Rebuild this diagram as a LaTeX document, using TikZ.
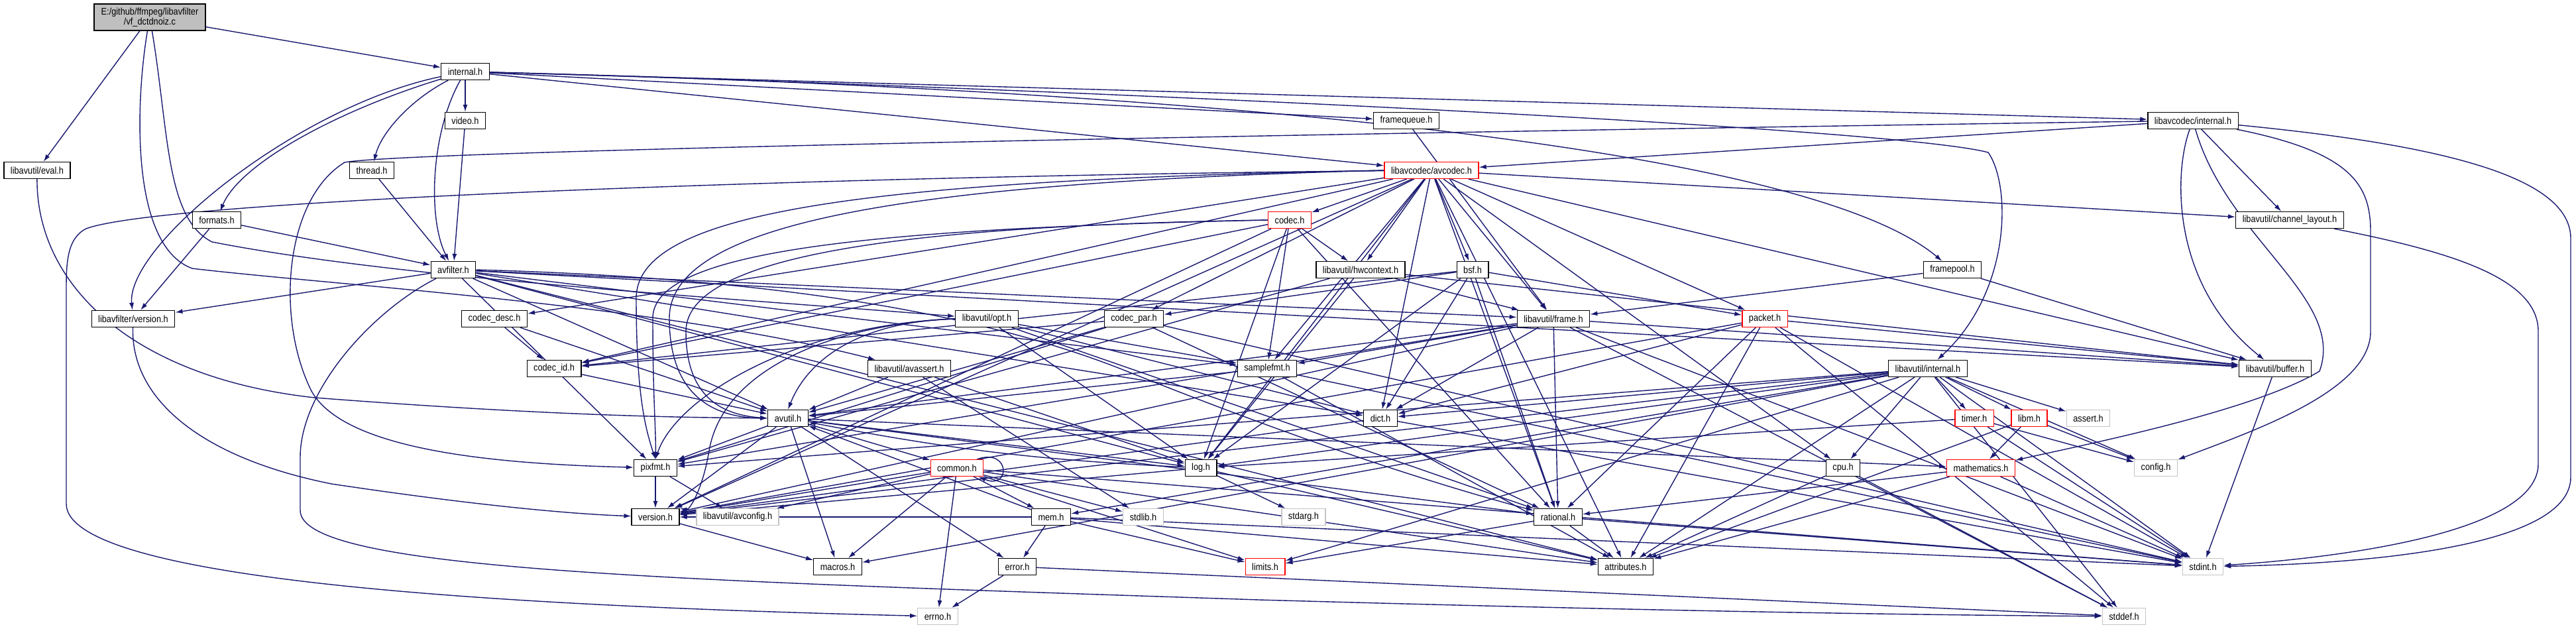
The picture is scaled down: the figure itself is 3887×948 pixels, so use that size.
\documentclass[tikz,border=0pt]{standalone}
\usepackage{fontspec}
\setmainfont[FakeStretch=0.88]{Liberation Sans}
\usetikzlibrary{arrows.meta}
\pgfdeclarelayer{edges}
\pgfsetlayers{edges,main}
\definecolor{edgeblue}{HTML}{191970}
\definecolor{rootgray}{HTML}{BFBFBF}
\definecolor{sysgray}{HTML}{C4C4C4}

\begin{document}
\begin{tikzpicture}[x=1pt,y=-1pt,
  hdr/.style={draw=black,line width=1.3pt,fill=white,minimum height=25pt,inner xsep=10pt,inner ysep=0pt,font=\fontsize{14.5}{15}\selectfont},
  redhdr/.style={hdr,draw=red},
  syshdr/.style={hdr,draw=sysgray},
  rootbox/.style={hdr,fill=rootgray,minimum width=168pt,minimum height=40pt,align=center,inner xsep=3pt},
  inc/.style={draw=edgeblue,line width=1.4pt,-{Latex[length=11pt,width=7pt]}}]
  \useasboundingbox (0,0) rectangle (3887,948);

  % libavfilter side
  \node[rootbox] (root) at (226,26) {E:/github/ffmpeg/libavfilter\\/vf\_dctdnoiz.c};
  \node[hdr] (lfint) at (702,108) {internal.h};
  \node[hdr] (video) at (702,182) {video.h};
  \node[hdr] (eval) at (56,257) {libavutil/eval.h};
  \node[hdr] (thread) at (561,257) {thread.h};
  \node[hdr] (formats) at (327,332) {formats.h};
  \node[hdr] (avfilter) at (684,407) {avfilter.h};
  \node[hdr] (lfver) at (201,481) {libavfilter/version.h};
  \node[hdr] (fqueue) at (2122,182) {framequeue.h};
  \node[hdr] (fpool) at (2946,407) {framepool.h};

  % libavcodec side
  \node[redhdr] (avcodec) at (2160,257) {libavcodec/avcodec.h};
  \node[hdr] (lcint) at (3309,182) {libavcodec/internal.h};
  \node[redhdr] (codec) at (1946,332) {codec.h};
  \node[hdr] (hwctx) at (2053,407) {libavutil/hwcontext.h};
  \node[hdr] (bsf) at (2222,407) {bsf.h};
  \node[hdr] (cdesc) at (746,481) {codec\_desc.h};
  \node[hdr] (cid) at (836,556) {codec\_id.h};
  \node[hdr] (cpar) at (1711,481) {codec\_par.h};
  \node[redhdr] (packet) at (2663,481) {packet.h};
  \node[hdr] (chlayout) at (3455,332) {libavutil/channel\_layout.h};

  % libavutil side
  \node[hdr] (opt) at (1489,481) {libavutil/opt.h};
  \node[hdr] (frame) at (2344,481) {libavutil/frame.h};
  \node[hdr] (avassert) at (1372,556) {libavutil/avassert.h};
  \node[hdr] (sfmt) at (1912,556) {samplefmt.h};
  \node[hdr] (luint) at (2909,556) {libavutil/internal.h};
  \node[hdr] (buffer) at (3433,556) {libavutil/buffer.h};
  \node[hdr] (avutil) at (1189,631) {avutil.h};
  \node[hdr] (dict) at (2083,631) {dict.h};
  \node[redhdr] (timer) at (2979,631) {timer.h};
  \node[redhdr] (libm) at (3062,631) {libm.h};
  \node[syshdr] (assert) at (3151,631) {assert.h};
  \node[hdr] (pixfmt) at (989,706) {pixfmt.h};
  \node[redhdr] (common) at (1444,706) {common.h};
  \node[hdr] (log) at (1812,706) {log.h};
  \node[hdr] (cpu) at (2781,706) {cpu.h};
  \node[redhdr] (math) at (2989,706) {mathematics.h};
  \node[syshdr] (config) at (3253,706) {config.h};
  \node[hdr] (ver) at (989,780) {version.h};
  \node[syshdr] (avconfig) at (1113,780) {libavutil/avconfig.h};
  \node[hdr] (mem) at (1586,780) {mem.h};
  \node[syshdr] (stdlib) at (1725,780) {stdlib.h};
  \node[syshdr] (stdarg) at (1967,780) {stdarg.h};
  \node[hdr] (rational) at (2351,780) {rational.h};
  \node[hdr] (macros) at (1264,855) {macros.h};
  \node[hdr] (error) at (1535,855) {error.h};
  \node[redhdr] (limits) at (1909,855) {limits.h};
  \node[hdr] (attr) at (2453,855) {attributes.h};
  \node[syshdr] (stdint) at (3324,855) {stdint.h};
  \node[syshdr] (errno) at (1415,930) {errno.h};
  \node[syshdr] (stddef) at (3205,930) {stddef.h};

  \begin{pgfonlayer}{edges}
    % straight includes
    \foreach \s/\t in {root/eval, root/lfint, lfint/video, lfint/fqueue, lfint/avcodec, lfint/lcint,
        video/avfilter, thread/avfilter, formats/avfilter, formats/lfver, fqueue/frame, fpool/frame, fpool/buffer}
      \draw[inc] (\s) -- (\t);
    \foreach \t in {lfver, attr, avutil, buffer, dict, frame, log, sfmt, pixfmt}
      \draw[inc] (avfilter) -- (\t);
    \foreach \t in {sfmt, attr, buffer, cpu, chlayout, dict, frame, hwctx, log, rational,
        bsf, codec, cdesc, cpar, cid, packet, ver}
      \draw[inc] (avcodec) -- (\t);
    \foreach \s/\t in {lcint/avcodec, lcint/chlayout,
        codec/hwctx, codec/log, codec/rational, codec/sfmt, codec/cid, codec/ver,
        cdesc/avutil, cdesc/cid, cid/avutil,
        cpar/stdint, cpar/avutil, cpar/rational, cpar/pixfmt, cpar/cid,
        bsf/dict, bsf/log, bsf/rational, bsf/cid, bsf/cpar, bsf/packet,
        packet/stddef, packet/stdint, packet/attr, packet/buffer, packet/dict, packet/rational, packet/ver,
        hwctx/buffer, hwctx/frame, hwctx/log, hwctx/pixfmt}
      \draw[inc] (\s) -- (\t);
    \foreach \s/\t in {frame/stddef, frame/stdint, frame/avutil, frame/buffer, frame/dict, frame/rational,
        frame/sfmt, frame/pixfmt, frame/ver,
        sfmt/stdint, sfmt/avutil, sfmt/attr,
        opt/rational, opt/dict, opt/log, opt/sfmt,
        avassert/stdlib, avassert/avutil, avassert/log,
        avutil/common, avutil/error, avutil/rational, avutil/ver, avutil/macros, avutil/math, avutil/log, avutil/pixfmt}
      \draw[inc] (\s) -- (\t);
    \foreach \s/\t in {common/errno, common/limits, common/stdint, common/stdlib, common/attr, common/macros,
        common/ver, common/avconfig, common/mem,
        mem/limits, mem/stdint, mem/attr, mem/error, mem/avutil, mem/ver,
        error/errno, error/stddef, log/stdarg, log/attr, log/ver,
        rational/stdint, rational/limits, rational/attr, math/stdint, math/attr, math/rational,
        pixfmt/avconfig, pixfmt/ver, ver/macros, dict/stdint, dict/ver,
        buffer/stdint, cpu/stddef, cpu/attr}
      \draw[inc] (\s) -- (\t);
    \foreach \t in {limits, stdint, stddef, assert, config, attr, timer, cpu, dict, macros, mem, pixfmt, ver, libm, log}
      \draw[inc] (luint) -- (\t);
    \foreach \s/\t in {timer/config, timer/stdint, timer/log, libm/config, libm/attr, libm/math}
      \draw[inc] (\s) -- (\t);
    \draw[inc] (log) to[bend left=4] (avutil);

    % routed includes
    \draw[inc] (root) .. controls (205,150) and (195,370) .. (290,405) .. controls (500,430) and (1000,460) .. (avassert);
    \draw[inc] (root) .. controls (255,200) and (250,330) .. (320,365) .. controls (600,420) and (1100,450) .. (opt);
    \draw[inc] (lfint) .. controls (450,160) and (190,370) .. (lfver);
    \draw[inc] (lfint) .. controls (650,200) and (645,330) .. (avfilter);
    \draw[inc] (lfint) .. controls (620,150) and (575,200) .. (thread);
    \draw[inc] (lfint) .. controls (500,170) and (360,250) .. (formats);
    \draw[inc] (lfint) .. controls (1500,130) and (2850,190) .. (3000,230) .. controls (3035,280) and (3035,440) .. (luint);
    \draw[inc] (lfint) .. controls (1600,130) and (2700,200) .. (fpool);
    \draw[inc] (eval) .. controls (55,430) and (200,570) .. (475,600) .. controls (800,625) and (1000,630) .. (avutil);
    \draw[inc] (lfver) .. controls (197,600) and (300,690) .. (500,730) .. controls (700,760) and (850,775) .. (ver);
    \draw[inc] (avcodec.west) .. controls (1400,275) and (1010,330) .. (1010,480) .. controls (1010,600) and (1080,630) .. (avutil.west);
    \draw[inc] (codec.west) .. controls (1400,340) and (1035,380) .. (1035,500) .. controls (1035,600) and (1090,626) .. (avutil.west);
    \draw[inc] (avcodec.west) .. controls (1300,272) and (960,320) .. (960,450) .. controls (960,600) and (975,650) .. (pixfmt.north);
    \draw[inc] (codec.west) .. controls (1300,345) and (985,380) .. (985,480) .. controls (985,600) and (990,650) .. (pixfmt.north);
    \draw[inc] (avfilter.east) .. controls (1200,420) and (1500,480) .. (1700,560) .. controls (2000,680) and (2200,740) .. (rational);
    \draw[inc] (opt.west) .. controls (1300,485) and (1220,540) .. (avutil.north);
    \draw[inc] (opt.west) .. controls (1200,490) and (1020,600) .. (pixfmt.north);
    \draw[inc] (opt.west) .. controls (1250,490) and (1090,560) .. (1070,680) .. controls (1060,740) and (1040,770) .. (ver.north east);
    \draw[inc] (avcodec) .. controls (1300,265) and (250,300) .. (130,345) .. controls (100,360) and (100,400) .. (100,440)
      -- (100,760) .. controls (100,880) and (800,915) .. (errno);
    \draw[inc] (avfilter) .. controls (560,470) and (453,590) .. (453,690) -- (453,770)
      .. controls (453,860) and (1000,875) .. (1900,905) .. controls (2500,922) and (2900,928) .. (stddef);
    \draw[inc] (lcint) .. controls (2400,195) and (620,225) .. (520,245) .. controls (430,300) and (415,480) .. (470,590)
      .. controls (520,680) and (750,700) .. (pixfmt);
    \draw[inc] (lcint) .. controls (3700,220) and (3879,270) .. (3879,360) -- (3879,720)
      .. controls (3879,820) and (3600,850) .. (stdint);
    \draw[inc] (chlayout) .. controls (3700,380) and (3830,420) .. (3830,500) -- (3830,700)
      .. controls (3830,800) and (3550,840) .. (stdint);
    \draw[inc] (lcint) .. controls (3550,230) and (3577,280) .. (3577,350) -- (3577,500)
      .. controls (3577,590) and (3400,650) .. (config);
    \draw[inc] (lcint) .. controls (3280,260) and (3275,430) .. (buffer);
    \draw[inc] (lcint) .. controls (3360,360) and (3540,450) .. (3500,560) .. controls (3400,620) and (3150,670) .. (math);
    \draw[inc] ([xshift=-10pt]common.north east) .. controls (1525,675) and (1525,740) .. ([xshift=-8pt]common.south east);
  \end{pgfonlayer}
\end{tikzpicture}
\end{document}
